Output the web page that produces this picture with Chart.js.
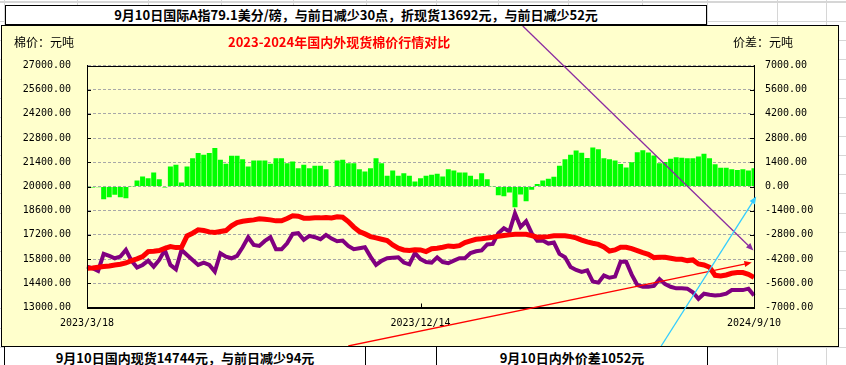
<!DOCTYPE html>
<html>
<head>
<meta charset="utf-8">
<script src="https://cdn.jsdelivr.net/npm/chart.js@4.4.1/dist/chart.umd.min.js"></script>
<style>
  html, body { margin: 0; padding: 0; }
  body {
    width: 846px; height: 365px; overflow: hidden; position: relative;
    background-color: #fff;
    background-image: repeating-linear-gradient(to bottom, #d6d6d6 0, #d6d6d6 1px, transparent 1px, transparent 19.15px);
    background-position: 0 2px;
    font-family: "Noto Sans CJK SC", sans-serif;
  }
  .vline { position: absolute; top: 0; width: 1px; height: 365px; background: #d6d6d6; }
  .topbox {
    position: absolute; left: 5px; top: 5px; width: 702px; height: 20px; box-sizing: border-box;
    border: 1px solid #000; background: #fff; font-weight: bold; font-size: 13px; line-height: 17px; text-align: center;
  }
  .chartbox {
    position: absolute; left: 1px; top: 25px; width: 838px; height: 322px; box-sizing: border-box;
    border: 1px solid #000; background: #ffffcc;
  }
  .chartbox canvas { position: absolute; left: 0; top: 0; }
  .lbl { position: absolute; top: 33px; font-size: 12px; line-height: 18px; color: #000; z-index: 2; }
  .title { position: absolute; left: 228px; top: 33px; font-size: 13px; line-height: 18px; font-weight: bold; color: #ff0000; z-index: 2; }
  .cell {
    position: absolute; top: 347px; height: 22px; box-sizing: border-box; background: #fff;
    border-left: 1px solid #000; border-right: 1px solid #000;
    font-weight: bold; font-size: 13px; line-height: 22px; text-align: center;
  }
</style>
</head>
<body>
<div id="cols"></div>
<div class="topbox">9月10日国际A指79.1美分/磅，与前日减少30点，折现货13692元，与前日减少52元</div>
<div class="chartbox">
  <canvas id="priceChart" width="836" height="320" style="width:836px;height:320px"></canvas>
</div>
<div class="lbl" style="left:14px">棉价：元吨</div>
<div class="title">2023-2024年国内外现货棉价行情对比</div>
<div class="lbl" style="left:733px">价差：元吨</div>
<div class="cell" style="left:4px;width:362px">9月10日国内现货14744元，与前日减少94元</div>
<div class="cell" style="left:365px;width:72px"></div>
<div class="cell" style="left:436px;width:272px">9月10日内外价差1052元</div>
<script>
// spreadsheet column lines behind the objects
const sheetColumns = [4, 77, 148, 221, 293, 366, 436, 498, 568, 642, 707, 777, 826];
sheetColumns.forEach(x => {
    const d = document.createElement('div');
    d.className = 'vline';
    d.style.left = x + 'px';
    document.getElementById('cols').appendChild(d);
});

// 国内现货 (元/吨)
const domestic = [
    15269, 15288, 15327, 15366, 15404, 15462, 15501, 15578, 15713, 15810, 15945, 16235, 16254, 16293, 16428, 16524, 16466, 16486, 17142, 17297, 17490, 17452, 17374, 17336, 17394,
    17452, 17722, 17915, 17992, 18031, 18070, 18127, 18108, 18070, 18012, 18012, 18147, 18301, 18282, 18166, 18166, 18185, 18185, 18205, 18185, 18243, 18224, 17973, 17650,
    17394, 17259, 17104, 17027, 16949, 16872, 16621, 16428, 16331, 16293, 16340, 16331, 16235, 16400, 16428, 16486, 16563, 16524, 16580, 16760, 16860, 16950, 16980, 17020,
    17060, 17120, 17170, 17201, 17239, 17239, 17239, 17162, 17065, 17080, 17100, 17150, 17150, 17150, 17100, 17030, 16900, 16800, 16720, 16650, 16500, 16270, 16330, 16480,
    16486, 16408, 16293, 16177, 16080, 15887, 15906, 15906, 15848, 15790, 15790, 15713, 15752, 15520, 15462, 15327, 14863, 14824, 14882, 14979, 15018, 15018, 14921, 14744
];

// 国际A指折现货 (元/吨)
const international = [
    15366, 15269, 15115, 16100, 15984, 15848, 15945, 16331, 15713, 15308, 15462, 15713, 15366, 15752, 16331, 15462, 15211, 16331, 16042, 15752, 15462, 15597, 15462, 15076, 16138,
    15945, 15848, 15984, 16486, 17065, 16621, 16563, 16853, 17065, 16370, 16370, 16717, 17258, 17297, 16911, 17142, 17065, 16949, 17200, 16988, 16833, 16872, 16563, 16370,
    16428, 16486, 15945, 15462, 15700, 15848, 15880, 15906, 15600, 15500, 16150, 15800, 15636, 15597, 15900, 15630, 15559, 15713, 15850, 15848, 16150, 16250, 16300, 16650,
    16680, 17300, 17587, 17400, 18440, 17660, 17990, 17300, 16860, 16872, 16700, 16760, 16100, 15906, 15340, 15173, 15060, 15150, 14500, 14439, 14850, 14720, 14786, 15650,
    15650, 14900, 14300, 14207, 14207, 14250, 14640, 14350, 14200, 14110, 14110, 14090, 13880, 13500, 13800, 13740, 13700, 13720, 13800, 14007, 14010, 14007, 14090, 13692
];

// 内外价差 (元/吨)
const spread = [
    20, -58, -40, -734, -618, -483, -618, -676, -10, 348, 579, 483, 811, 425, -58, 1159, 1255, 232, 1159, 1641, 1931, 1834, 1931, 2221, 1545,
    1313, 1777, 1777, 1583, 1159, 1506, 1506, 1506, 1313, 1641, 1641, 1352, 1448, 1062, 1255, 1062, 1197, 1197, 1004, 0, 1506, 1545, 1352, 1352,
    1004, 869, 1062, 1641, 1352, 618, 927, 618, 772, 618, 290, 483, 618, 676, 734, 579, 1004, 927, 811, 811, 618, 425, 772, 425,
    -20, -500, -560, -350, -1200, -460, -860, -193, 140, 348, 444, 560, 1200, 1583, 1834, 2085, 1950, 1650, 2250, 2150, 1640, 1583, 1500, 1300,
    1100, 1400, 1980, 2100, 1970, 1800, 1340, 1420, 1610, 1690, 1670, 1640, 1640, 1740, 1900, 1630, 1290, 1090, 1080, 1000, 960, 1000, 930, 1052
];

const tickLabels = ['2023/3/18', '2023/12/14', '2024/9/10'];

// category dates, evenly spread between first and last tick label
const startDay = Date.UTC(2023, 2, 18);
const spanDays = 542;
const categories = domestic.map((_, i) => {
    const d = new Date(startDay + Math.round(i * spanDays / (domestic.length - 1)) * 86400000);
    return d.getUTCFullYear() + '/' + (d.getUTCMonth() + 1) + '/' + d.getUTCDate();
});

// hand drawn arrows on the sheet: [category index, value on the spread axis]
const arrowFrom = [[78.4, 9285], [47.0, -9227], [103.3, -9227]];
const arrowTo = [[119.9, -3702], [119.6, -4397], [120.4, -578]];
const arrowColors = ['#8b2ba0', '#ff0000', '#33ccff'];

const tickFont = { family: 'DejaVu Sans Mono', size: 10 };

function drawArrow(ctx, x1, y1, x2, y2, color) {
    const ang = Math.atan2(y2 - y1, x2 - x1);
    ctx.save();
    ctx.strokeStyle = color;
    ctx.fillStyle = color;
    ctx.lineWidth = 1.3;
    ctx.beginPath();
    ctx.moveTo(x1, y1);
    ctx.lineTo(x2 - 5 * Math.cos(ang), y2 - 5 * Math.sin(ang));
    ctx.stroke();
    ctx.beginPath();
    ctx.moveTo(x2, y2);
    ctx.lineTo(x2 - 8 * Math.cos(ang - 0.4), y2 - 8 * Math.sin(ang - 0.4));
    ctx.lineTo(x2 - 8 * Math.cos(ang + 0.4), y2 - 8 * Math.sin(ang + 0.4));
    ctx.closePath();
    ctx.fill();
    ctx.restore();
}

const framePlugin = {
    id: 'frame',
    afterDraw(chart) {
        const { ctx, chartArea: a, scales } = chart;
        ctx.save();
        ctx.strokeStyle = '#000';
        ctx.lineWidth = 1;
        ctx.strokeRect(Math.round(a.left) + 0.5, Math.round(a.top) + 0.5,
            Math.round(a.right - a.left), Math.round(a.bottom - a.top));
        // short tick marks inside the plot
        ctx.beginPath();
        scales.y.ticks.forEach(t => {
            const py = Math.round(scales.y.getPixelForValue(t.value)) + 0.5;
            ctx.moveTo(a.left, py); ctx.lineTo(a.left + 4, py);
        });
        scales.y1.ticks.forEach(t => {
            const py = Math.round(scales.y1.getPixelForValue(t.value)) + 0.5;
            ctx.moveTo(a.right - 4, py); ctx.lineTo(a.right, py);
        });
        tickLabels.forEach(lab => {
            const px = Math.round(scales.x.getPixelForValue(categories.indexOf(lab))) + 0.5;
            ctx.moveTo(px, a.bottom); ctx.lineTo(px, a.bottom - 4);
        });
        ctx.stroke();
        ctx.restore();

        arrowFrom.forEach((p, k) => {
            drawArrow(ctx,
                scales.x.getPixelForValue(p[0]), scales.y1.getPixelForValue(p[1]),
                scales.x.getPixelForValue(arrowTo[k][0]), scales.y1.getPixelForValue(arrowTo[k][1]),
                arrowColors[k]);
        });
    }
};

new Chart(document.getElementById('priceChart'), {
    type: 'bar',
    data: {
        labels: categories,
        datasets: [{
            type: 'line',
            label: '国内现货',
            data: domestic,
            borderColor: '#ff0000',
            borderWidth: 5,
            pointRadius: 0,
            yAxisID: 'y',
            order: 1
        }, {
            type: 'line',
            label: '国际折现货',
            data: international,
            borderColor: '#800080',
            borderWidth: 4,
            pointRadius: 0,
            yAxisID: 'y',
            order: 2
        }, {
            type: 'bar',
            label: '内外价差',
            data: spread,
            backgroundColor: '#00ff00',
            barPercentage: 0.9,
            categoryPercentage: 1,
            yAxisID: 'y1',
            order: 3
        }]
    },
    options: {
        responsive: false,
        animation: false,
        layout: { padding: { top: 39.5, left: 0, right: 0, bottom: 0 } },
        plugins: {
            legend: { display: false },
            tooltip: { enabled: false }
        },
        scales: {
            x: {
                offset: false,
                grid: { display: false, offset: false },
                border: { display: true, color: '#000' },
                ticks: {
                    autoSkip: false,
                    maxRotation: 0,
                    padding: 2,
                    color: '#000',
                    font: tickFont,
                    callback: (v, i) => tickLabels.includes(categories[i]) ? categories[i] : ''
                },
                afterFit: s => { s.height = 38.5; }
            },
            y: {
                position: 'left',
                min: 13000,
                max: 27000,
                grid: { color: '#a8a8a8', drawTicks: false },
                border: { color: '#000', dash: [3, 2] },
                ticks: {
                    stepSize: 1400,
                    padding: 16,
                    color: '#000',
                    font: tickFont,
                    callback: v => v.toFixed(2)
                },
                afterFit: s => { s.width = 85; }
            },
            y1: {
                position: 'right',
                min: -7000,
                max: 7000,
                grid: { drawOnChartArea: false, drawTicks: false },
                border: { color: '#000' },
                ticks: {
                    stepSize: 1400,
                    padding: 11,
                    color: '#000',
                    font: tickFont,
                    callback: v => v.toFixed(2)
                },
                afterFit: s => { s.width = 84; }
            }
        }
    },
    plugins: [framePlugin]
});
</script>
</body>
</html>
